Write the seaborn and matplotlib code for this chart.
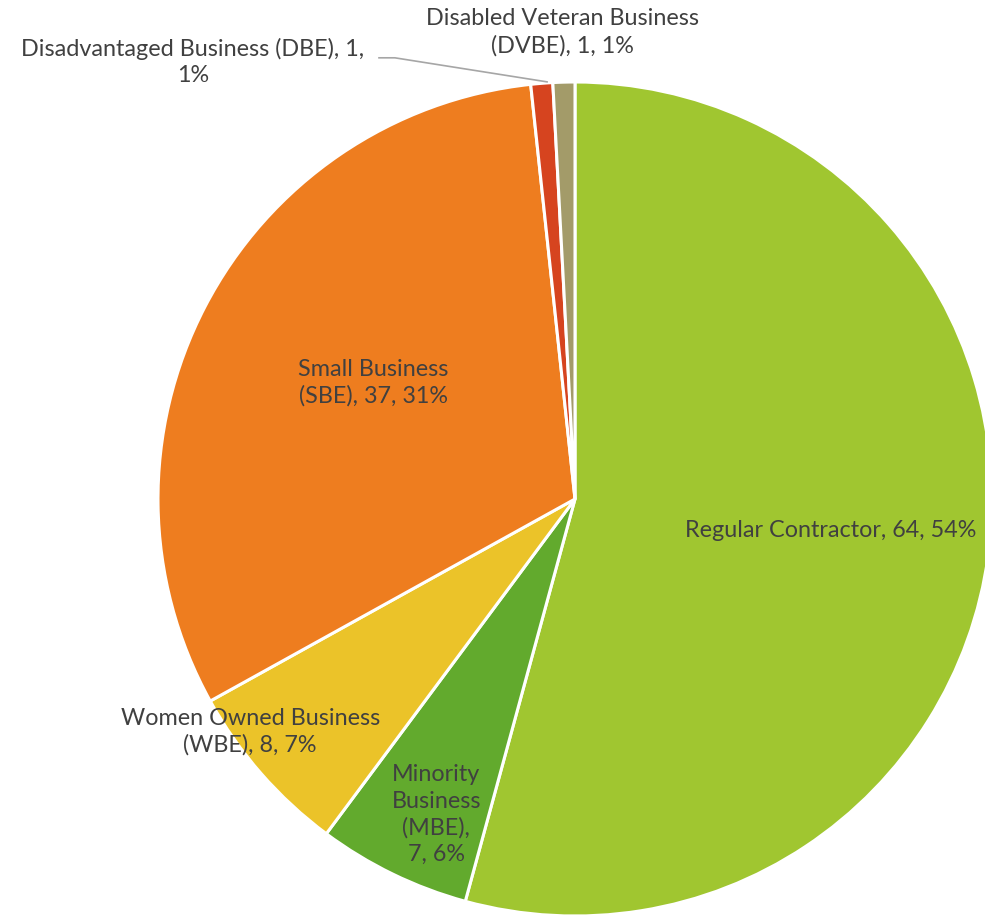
import matplotlib
matplotlib.use("Agg")
import matplotlib.pyplot as plt
import seaborn as sns

# slices, clockwise from 12 o'clock
labels = [
    "Regular Contractor",
    "Minority\nBusiness\n(MBE),",
    "Women Owned Business\n(WBE),",
    "Small Business\n(SBE),",
    "Disadvantaged Business (DBE),",
    "Disabled Veteran Business\n(DVBE),",
]
counts = [64, 7, 8, 37, 1, 1]
colors = ["#A0C630", "#62AA2D", "#EBC329", "#EE7D1F", "#D6441F", "#A39B69"]

# where the data labels sit (pie radius = 1, centre at 0,0)
label_pos = [(0.612, -0.074), (-0.333, -0.755), (-0.779, -0.556),
             (-0.484, 0.281), (-0.916, 1.050), (-0.029, 1.122)]


def main() -> None:
    sns.set_theme(style="white")
    plt.rcParams["font.family"] = ["Lato", "DejaVu Sans"]

    fig = plt.figure(figsize=(9.85, 9.2), dpi=100)
    ax = fig.add_axes([0, 0, 1, 1])

    ax.pie(
        counts,
        colors=colors,
        startangle=90,
        counterclock=False,
        radius=1.0,
        wedgeprops=dict(edgecolor="white", linewidth=2.2),
    )

    total = sum(counts)
    for i, (lab, n) in enumerate(zip(labels, counts)):
        pct = round(100 * n / total)
        if i == 0:
            txt = f"{lab}, {n}, {pct}%"
        elif i == 1:
            txt = f"{lab}\n{n}, {pct}%"
        elif i == 4:
            txt = f"{lab} {n},\n{pct}%"
        else:
            txt = f"{lab} {n}, {pct}%"
        x, y = label_pos[i]
        ax.text(x, y, txt, ha="center", va="center", fontsize=16.8,
                color="#404040", linespacing=1.32)

    # leader line for the DBE label
    ax.plot([-0.472, -0.432, -0.065], [1.058, 1.058, 1.0],
            color="#A6A6A6", linewidth=1.2, solid_capstyle="butt")

    ax.set_xlim(-575 / 417, (985 - 575) / 417)
    ax.set_ylim(-(920 - 500) / 417, 500 / 417)
    ax.set_aspect("auto")
    ax.axis("off")

    fig.savefig("out.png", dpi=100, facecolor="white")
    plt.close(fig)


if __name__ == "__main__":
    main()
